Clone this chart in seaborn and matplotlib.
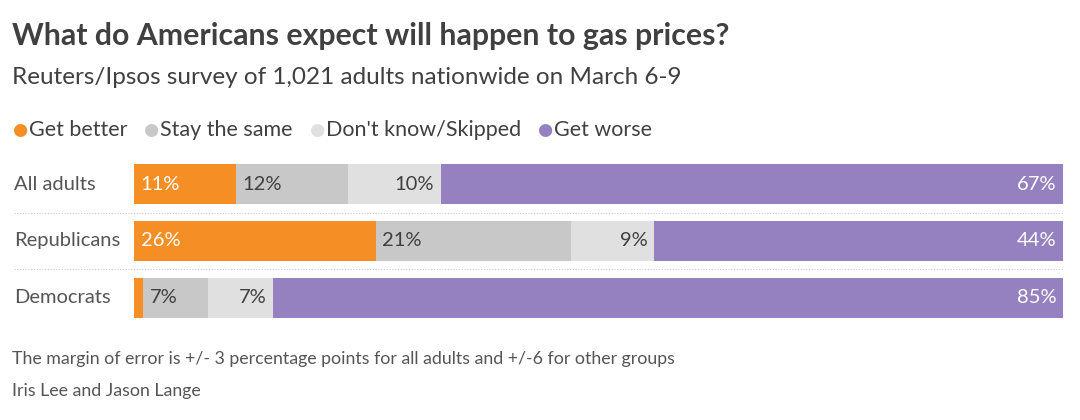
import numpy as np
import pandas as pd
import matplotlib.pyplot as plt
import seaborn as sns

groups = ["All adults", "Republicans", "Democrats"]
answers = ["Get better", "Stay the same", "Don't know/Skipped", "Get worse"]
get_better = [11, 26, 1]
stay_same = [12, 21, 7]
dont_know = [10, 9, 7]
get_worse = [67, 44, 85]
colors = ["#F68E26", "#C8C8C8", "#E0E0E0", "#9581C0"]
label_colors = ["white", "#404040", "#404040", "white"]
label_align = ["left", "left", "right", "right"]

sns.set_theme(style="white")
plt.rcParams["font.family"] = ["Lato", "DejaVu Sans"]

df = pd.DataFrame({"group": groups, "Get better": get_better,
                   "Stay the same": stay_same,
                   "Don't know/Skipped": dont_know, "Get worse": get_worse})
vals = df[answers].to_numpy(dtype=float)
cum = vals.cumsum(axis=1)

fig = plt.figure(figsize=(10.8, 4.2), dpi=100)
W, H = 1080, 420
ax = fig.add_axes([134 / W, 1 - 318 / H, (1063 - 134) / W, (318 - 164) / H])

# stacked bars: draw cumulative totals from the back to the front
for i in range(len(answers) - 1, -1, -1):
    sns.barplot(x=cum[:, i], y=groups, orient="h", color=colors[i],
                width=0.71, ax=ax, saturation=1, linewidth=0)

for r in range(len(groups)):
    for i in range(len(answers)):
        v = vals[r, i]
        if v < 5:
            continue
        start = cum[r, i] - v
        if label_align[i] == "left":
            x, ha = start + 0.7, "left"
        else:
            x, ha = cum[r, i] - 0.7, "right"
        ax.text(x, r, f"{int(v)}%", ha=ha, va="center", fontsize=14.5,
                color=label_colors[i])

ax.set_xlim(0, 100)
ax.set_ylim(2.355, -0.355)
ax.set_xticks([])
ax.set_yticks([])
ax.set_xlabel("")
ax.set_ylabel("")
sns.despine(ax=ax, left=True, bottom=True)

for r, g in enumerate(groups):
    ax.text(-120 / 929 * 100, r, g, ha="left", va="center", fontsize=14.5,
            color="#555555")
for yb in [0.5, 1.5]:
    ax.plot([-120 / 929 * 100, 100], [yb, yb], color="#CCCCCC", lw=0.8,
            ls=(0, (1, 1.5)), clip_on=False)

fig.text(12 / W, 1 - 45 / H, "What do Americans expect will happen to gas prices?",
         fontsize=21.8, fontweight="bold", color="#404040", va="baseline")
fig.text(12 / W, 1 - 84 / H, "Reuters/Ipsos survey of 1,021 adults nationwide on March 6-9",
         fontsize=17.5, color="#404040", va="baseline")

# legend
lx = 12
for name, c in zip(answers, colors):
    fig.text(lx / W, 1 - 130 / H, "●", fontsize=12.5, color=c, va="center",
             family="DejaVu Sans")
    t = fig.text((lx + 17) / W, 1 - 130 / H, name, fontsize=15.5,
                 color="#404040", va="center")
    fig.canvas.draw()
    bb = t.get_window_extent()
    lx = bb.x1 + 16

fig.text(12 / W, 1 - 364 / H,
         "The margin of error is +/- 3 percentage points for all adults and +/-6 for other groups",
         fontsize=12.8, color="#555555", va="baseline")
fig.text(12 / W, 1 - 396 / H, "Iris Lee and Jason Lange", fontsize=12.8,
         color="#555555", va="baseline")

fig.savefig("out.png", dpi=100, facecolor="white")
